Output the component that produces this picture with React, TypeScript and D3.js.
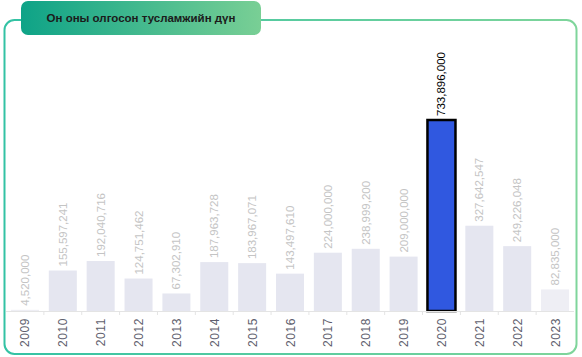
import React from "react";
import * as d3 from "d3";

const years = ["2009","2010","2011","2012","2013","2014","2015","2016","2017","2018","2019","2020","2021","2022","2023"];
const values = [4520000,155597241,192040716,124751462,67302910,187963728,183967071,143497610,224000000,238999200,209000000,733896000,327642547,249226048,82835000];
const highlightYear = "2020";
const title = "Он оны олгосон тусламжийн дүн";

export default function App() {
  const W = 582, H = 357;
  const baseline = 311;
  const x = d3.scaleBand<string>().domain(years).range([6, 574]).paddingInner(0.26).paddingOuter(0.13);
  const y = d3.scaleLinear().domain([0, 733896000]).range([baseline, 120]);
  const fmt = d3.format(",");
  const step = x.step();
  return (
    <svg width={W} height={H} style={{ position: "absolute", left: 0, top: 0 }} fontFamily="'Liberation Sans', Arial, sans-serif">
      <defs>
        <linearGradient id="border" x1="0" x2="1" y1="0" y2="0">
          <stop offset="0" stopColor="#33c2a4" />
          <stop offset="1" stopColor="#7fd59b" />
        </linearGradient>
        <linearGradient id="titlebg" x1="0" x2="1" y1="0" y2="0">
          <stop offset="0" stopColor="#0ea387" />
          <stop offset="1" stopColor="#79cf95" />
        </linearGradient>
      </defs>
      <rect x={4.5} y={20} width={572} height={334} rx={10} fill="#fff" stroke="url(#border)" strokeWidth={2} />
      <rect x={21} y={1} width={240} height={34} rx={7} fill="url(#titlebg)" />
      <text x={141} y={22} textAnchor="middle" fontSize={11.5} fontWeight="bold" fill="#1b1b1b" fontFamily="Arial, 'Liberation Sans', sans-serif">{title}</text>
      {years.map((yr, i) => {
        const v = values[i];
        const bx = x(yr)!;
        const hl = yr === highlightYear;
        const cx = bx + x.bandwidth() / 2;
        const top = y(v);
        return (
          <g key={yr}>
            <rect x={bx} y={top} width={x.bandwidth()} height={baseline - top}
              fill={hl ? "#3058e0" : (i === 0 || i === years.length - 1 ? "#eeeef4" : "#e5e6f0")}
              stroke={hl ? "#000" : "none"} strokeWidth={hl ? 2.5 : 0} />
            <text transform={`translate(${cx + 4},${top - 4}) rotate(-90)`} fontSize={11.5}
              fill={hl ? "#000" : "#c4c4c4"}>{fmt(v)}</text>
            <text transform={`translate(${cx + 4.5},${baseline + 7}) rotate(-90)`} fontSize={12}
              textAnchor="end" fill="#5f5f6e" letterSpacing={0.6}>{yr}</text>
          </g>
        );
      })}
      <line x1={6} x2={574} y1={baseline + 0.5} y2={baseline + 0.5} stroke="#e4e4e4" />
      {years.slice(1).map((yr) => {
        const tx = x(yr)! - (step - x.bandwidth()) / 2;
        return <line key={yr} x1={tx} x2={tx} y1={baseline} y2={baseline + 4} stroke="#e4e4e4" />;
      })}
    </svg>
  );
}
